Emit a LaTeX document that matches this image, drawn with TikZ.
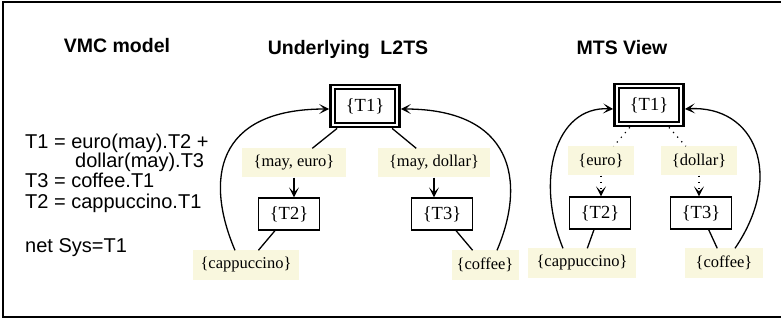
\documentclass[tikz,border=0pt]{standalone}
\usepackage{fontspec}
\setmainfont{Liberation Serif}
\setsansfont{Liberation Sans}
\usetikzlibrary{arrows.meta,calc}
\definecolor{lblbg}{RGB}{249,247,222}
\begin{document}
\begin{tikzpicture}[x=1pt,y=-1pt,
  arr/.style={-{Stealth[length=10pt,width=10pt,inset=5pt]}},
  box/.style={draw, line width=1.3pt, minimum width=61pt, minimum height=32pt, inner sep=0pt, font=\fontsize{18.5}{18.5}\selectfont},
  dbox/.style={draw, line width=2.8pt, minimum width=69pt, minimum height=42pt, inner sep=0pt, font=\fontsize{18.5}{18.5}\selectfont},
  lbl/.style={fill=lblbg, minimum height=29pt, inner sep=0pt, font=\fontsize{16.5}{16.5}\selectfont},
  eq/.style={anchor=base west, inner sep=0pt, font=\sffamily\fontsize{20}{20}\selectfont},
  ttl/.style={anchor=base, inner sep=0pt, font=\sffamily\bfseries\fontsize{19.5}{20}\selectfont},
  con/.style={line width=1.3pt},
  dotcon/.style={line width=1.2pt, dash pattern=on 1.2pt off 5pt},
]
\useasboundingbox (0,0) rectangle (781,320);
\draw[line width=2pt] (786,2) -- (3,2) -- (3,317) -- (786,317);

% titles
\node[ttl] (ttlA) at (117,53) {VMC model};
\node[ttl] (ttlB) at (348,55) {Underlying\ \ L2TS};
\node[ttl] (ttlC) at (622,55) {MTS View};

% VMC model text
\node[eq] (e1) at (25,149) {T1 = euro(may).T2 +};
\node[eq] (e2) at (75,168) {dollar(may).T3};
\node[eq] (e3) at (25,188) {T3 = coffee.T1};
\node[eq] (e4) at (25,209) {T2 = cappuccino.T1};
\node[eq] (e5) at (25,252) {net Sys=T1};

% Underlying L2TS
\node[dbox] (T1) at (365,106) {\{T1\}};
\node[lbl, minimum width=104pt] (me) at (294,163) {\{may, euro\}};
\node[lbl, minimum width=112pt] (md) at (434,163) {\{may, dollar\}};
\node[box] (T2) at (289,214) {\{T2\}};
\node[box] (T3) at (442,214) {\{T3\}};
\node[lbl, minimum width=106pt] (cp) at (246,265) {\{cappuccino\}};
\node[lbl, minimum width=67pt] (cf) at (485,265) {\{coffee\}};

\draw[con] (T1) -- (me);
\draw[con] (T1) -- (md);
\draw[con,arr] (me) -- (me |- T2.north);
\draw[con,arr] (md) -- (md |- T3.north);
\draw[con] (T2) -- (cp);
\draw[con] (T3) -- (cf);
\draw[con,arr] ([xshift=-11pt]cp.north) .. controls (205,180) and (215,109) .. ([yshift=-3pt]T1.west);
\draw[con,arr] ([xshift=12pt]cf.north) .. controls (527,180) and (512,109) .. ([yshift=-3pt]T1.east);

% MTS View
\node[dbox] (M1) at (649,105) {\{T1\}};
\node[lbl, minimum width=66pt] (eu) at (601,161) {\{euro\}};
\node[lbl, minimum width=76pt] (do) at (699,161) {\{dollar\}};
\node[box] (M2) at (600,213) {\{T2\}};
\node[box] (M3) at (701,213) {\{T3\}};
\node[lbl, minimum width=108pt] (mcp) at (582,263) {\{cappuccino\}};
\node[lbl, minimum width=78pt] (mcf) at (724,263) {\{coffee\}};

\draw[dotcon] (M1) -- (eu);
\draw[dotcon] (M1) -- (do);
\draw[dotcon,arr] (eu) -- (eu |- M2.north);
\draw[dotcon,arr] (do) -- (do |- M3.north);
\draw[con] (M2) -- (mcp);
\draw[con] (M3) -- (mcf);
\draw[con,arr] ([xshift=-19pt]mcp.north) .. controls (535,180) and (555,106) .. ([yshift=-4pt]M1.west);
\draw[con,arr] ([xshift=11pt]mcf.north) .. controls (785,175) and (755,105) .. ([yshift=-4pt]M1.east);

% inner lines of the double boxes
\foreach \n in {T1,M1}
  \draw[line width=1.8pt] ([shift={(5.7pt,-5.7pt)}]\n.north west) rectangle ([shift={(-5.7pt,5.7pt)}]\n.south east);
\end{tikzpicture}
\end{document}
